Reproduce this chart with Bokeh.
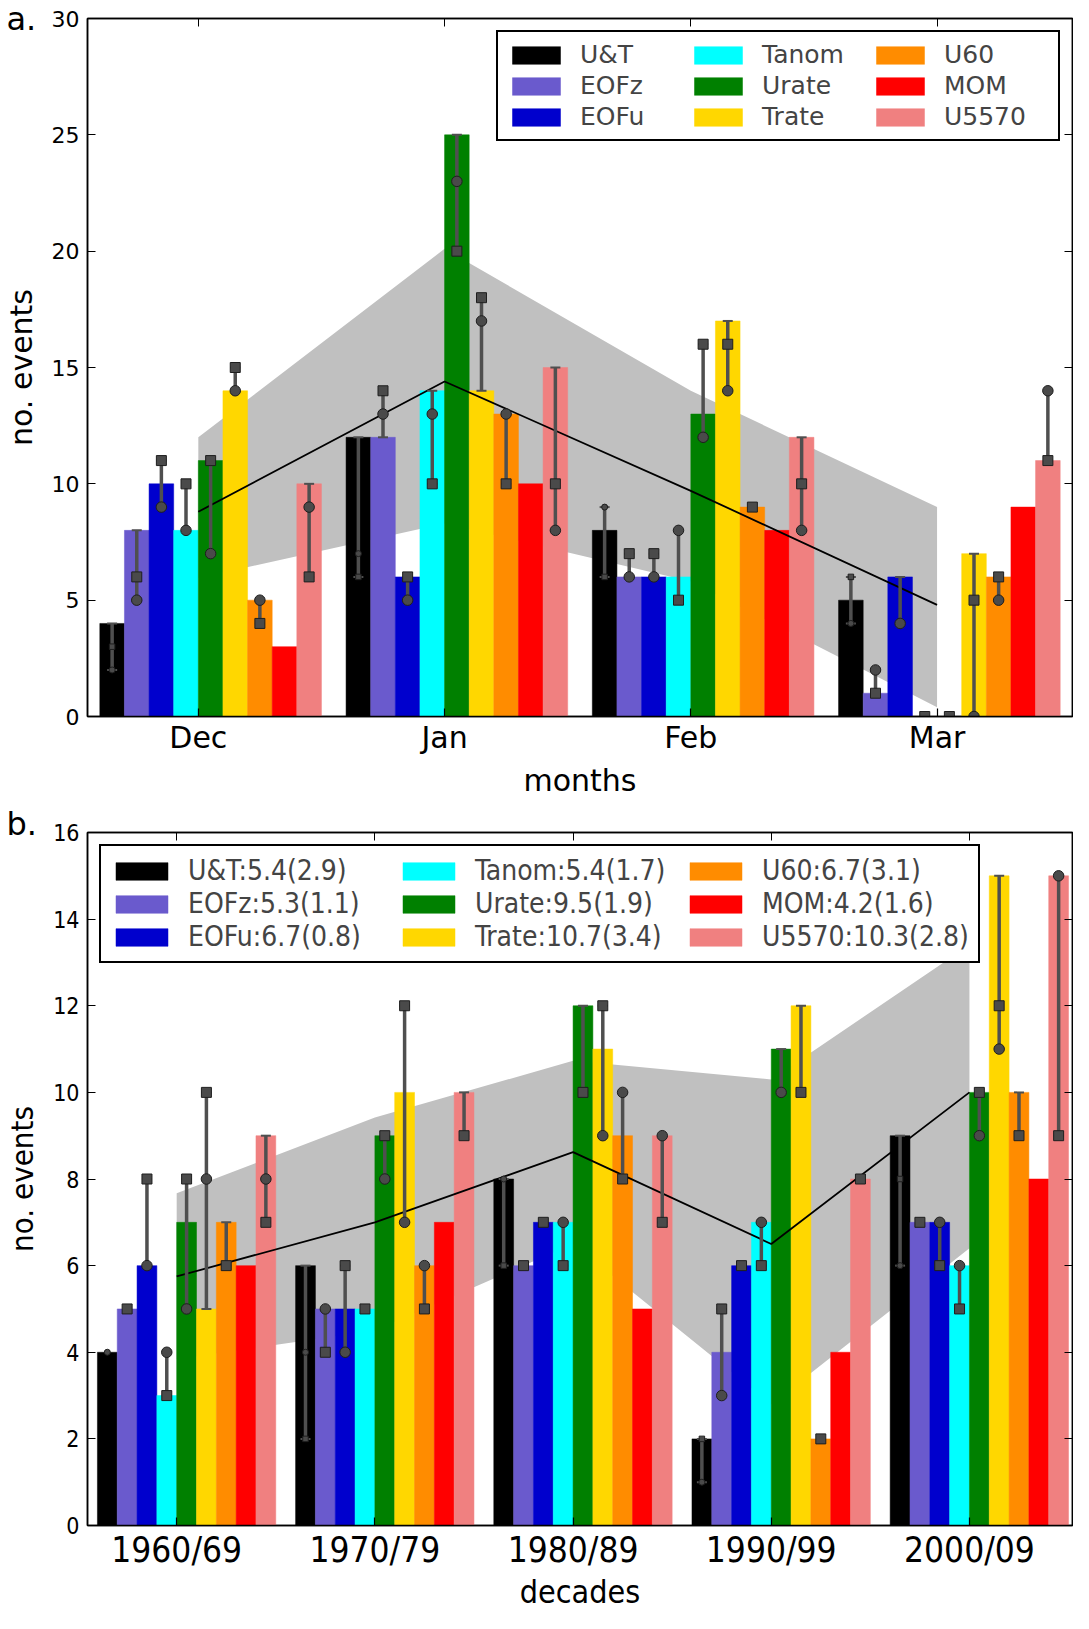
import numpy as np
from bokeh.plotting import figure
from bokeh.models import (ColumnDataSource, Range1d, LinearAxis, FixedTicker,
                          Legend, LegendItem)
from bokeh.transform import dodge
from bokeh.layouts import column
from bokeh.embed import file_html
from bokeh.resources import INLINE

N = None

series = ["U&T", "EOFz", "EOFu", "Tanom", "Urate", "Trate", "U60", "MOM", "U5570"]
colors = ["#000000", "#6a5acd", "#0000cd", "#00ffff", "#008000",
          "#ffd700", "#ff8c00", "#ff0000", "#f08080"]

# ---------------- panel a: months ----------------
months = ["Dec", "Jan", "Feb", "Mar"]
a_bar_Dec = [4, 8, 10, 8, 11, 14, 5, 3, 10]
a_circ_Dec = [2, 5, 9, 8, 7, 14, 5, N, 9]
a_sq_Dec = [3, 6, 11, 10, 11, 15, 4, N, 6]
a_bar_Jan = [12, 12, 6, 14, 25, 14, 13, 10, 15]
a_circ_Jan = [7, 13, 5, 13, 23, 17, 13, N, 8]
a_sq_Jan = [6, 14, 6, 10, 20, 18, 10, N, 10]
a_bar_Feb = [8, 6, 6, 6, 13, 17, 9, 8, 12]
a_circ_Feb = [9, 6, 6, 8, 12, 14, N, N, 8]
a_sq_Feb = [6, 7, 7, 5, 16, 16, 9, N, 10]
a_bar_Mar = [5, 1, 6, 0, 0, 7, 6, 9, 11]
a_circ_Mar = [4, 2, 4, N, N, 0, 5, N, 14]
a_sq_Mar = [6, 1, N, 0, 0, 5, 6, N, 11]
a_mean = [8.8, 14.4, 9.7, 4.8]
a_band_lo = [5.95, 8.3, 5.8, 0.4]
a_band_hi = [12.0, 20.1, 14.0, 9.0]
a_legend = series
a_yticks = [0, 5, 10, 15, 20, 25, 30]

# ---------------- panel b: decades ----------------
decades = ["1960/69", "1970/79", "1980/89", "1990/99", "2000/09"]
b_bar_60 = [4, 5, 6, 3, 7, 5, 7, 6, 9]
b_circ_60 = [4, N, 6, 4, 5, 8, N, N, 8]
b_sq_60 = [N, 5, 8, 3, 8, 10, 6, N, 7]
b_bar_70 = [6, 5, 5, 5, 9, 10, 6, 7, 10]
b_circ_70 = [4, 5, 4, N, 8, 7, 6, N, N]
b_sq_70 = [2, 4, 6, 5, 9, 12, 5, N, 9]
b_bar_80 = [8, 6, 7, 7, 12, 11, 9, 5, 9]
b_circ_80 = [8, N, N, 7, N, 9, 10, N, 9]
b_sq_80 = [6, 6, 7, 6, 10, 12, 8, N, 7]
b_bar_90 = [2, 4, 6, 7, 11, 12, 2, 4, 8]
b_circ_90 = [1, 3, N, 7, 10, N, N, N, N]
b_sq_90 = [2, 5, 6, 6, N, 10, 2, N, 8]
b_bar_00 = [9, 7, 7, 6, 10, 15, 10, 8, 15]
b_circ_00 = [6, N, 7, 6, 9, 11, N, N, 15]
b_sq_00 = [8, 7, 6, 5, 10, 12, 9, N, 9]
b_mean = [5.75, 7.0, 8.62, 6.5, 10.0]
b_band_lo = [3.84, 4.5, 6.5, 2.8, 6.4]
b_band_hi = [7.67, 9.42, 10.73, 10.3, 13.4]
b_legend = ["U&T:5.4(2.9)", "EOFz:5.3(1.1)", "EOFu:6.7(0.8)",
            "Tanom:5.4(1.7)", "Urate:9.5(1.9)", "Trate:10.7(3.4)",
            "U60:6.7(3.1)", "MOM:4.2(1.6)", "U5570:10.3(2.8)"]
b_yticks = [0, 2, 4, 6, 8, 10, 12, 14, 16]

BAR_W = 0.1
FONT_A = "DejaVu Sans"
FONT_B = "DejaVu Sans Condensed, DejaVu Sans"


def nan(v):
    return np.nan if v is None else float(v)


def make_panel(cats, bars, circs, sqs, mean, lo, hi, labels, yticks,
               x_end, height, top_b, bottom_b, xlabel, tag, tag_standoff,
               font, fs, legend_loc, glyph_w, glyph_h, label_w, leg_spacing,
               xt_standoff, xl_standoff):
    n = len(cats)
    xs = list(range(n))
    p = figure(width=1073, height=height, output_backend="svg",
               toolbar_location=None,
               x_range=Range1d(-0.45, x_end), y_range=Range1d(0, yticks[-1]),
               min_border_left=83, min_border_right=1,
               min_border_top=top_b, min_border_bottom=bottom_b)
    p.xgrid.visible = False
    p.ygrid.visible = False
    p.outline_line_color = "black"
    p.outline_line_width = 1.5
    p.outline_line_alpha = 1.0
    p.background_fill_color = "white"
    p.border_fill_color = "white"

    # panel tag ("a." / "b.") as the plot title, pulled left of the frame
    p.title.text = tag
    p.title.align = "left"
    p.title.vertical_align = "bottom"
    p.title.offset = -81
    p.title.standoff = tag_standoff
    p.title.text_font = FONT_A
    p.title.text_font_size = "32px"
    p.title.text_font_style = "normal"
    p.title.text_color = "black"

    p.varea(x=xs, y1=lo, y2=hi, fill_color="#c0c0c0", fill_alpha=1.0)

    items = []
    srcs = []
    for i, name in enumerate(series):
        off = (i - 3.5) * BAR_W
        top = [float(bars[c][i]) for c in range(n)]
        circ = [nan(circs[c][i]) for c in range(n)]
        sq = [nan(sqs[c][i]) for c in range(n)]
        elo, ehi = [], []
        for c in range(n):
            vals = [v for v in (top[c], circ[c], sq[c]) if not np.isnan(v)]
            a, b = min(vals), max(vals)
            if b > a:
                elo.append(a)
                ehi.append(b)
            else:
                elo.append(np.nan)
                ehi.append(np.nan)
        src = ColumnDataSource(dict(x=xs, top=top, circ=circ, sq=sq,
                                    elo=elo, ehi=ehi))
        r = p.vbar(x=dodge("x", off), top="top", bottom=0, width=BAR_W,
                   source=src, fill_color=colors[i], line_color=colors[i],
                   line_width=0.5)
        items.append(LegendItem(label=labels[i], renderers=[r]))
        srcs.append((src, off, i))

    p.line(xs, mean, line_color="black", line_width=1.8)

    for src, off, i in srcs:
        xd = dodge("x", off)
        p.segment(x0=xd, y0="elo", x1=xd, y1="ehi", source=src,
                  line_color="#4f4f4f", line_width=3.5)
        p.scatter(x=xd, y="ehi", source=src, marker="dash", size=10,
                  line_color="#4f4f4f", line_width=2)
        p.scatter(x=xd, y="elo", source=src, marker="dash", size=10,
                  line_color="#4f4f4f", line_width=2)
        ms = 6 if i == 0 else 10.5
        p.scatter(x=xd, y="circ", source=src, marker="circle", size=ms,
                  fill_color="#4a4a4a", line_color="#1e1e1e", line_width=1)
        p.scatter(x=xd, y="sq", source=src, marker="square", size=ms - 0.5,
                  fill_color="#4a4a4a", line_color="#1e1e1e", line_width=1)

    # axes
    xa = p.xaxis[0]
    xa.ticker = FixedTicker(ticks=xs)
    xa.major_label_overrides = {i: c for i, c in enumerate(cats)}
    xa.axis_label = xlabel
    ya = p.yaxis[0]
    ya.ticker = FixedTicker(ticks=yticks)
    ya.axis_label = "no. events"
    for ax in (xa, ya):
        ax.major_tick_in = 8
        ax.major_tick_out = 0
        ax.minor_tick_line_color = None
        ax.axis_line_color = "black"
        ax.axis_line_width = 1.5
        ax.major_tick_line_width = 1.2
        ax.major_label_text_font = font
        ax.axis_label_text_font = font
        ax.axis_label_text_font_style = "normal"
        ax.major_label_text_color = "black"
        ax.axis_label_text_color = "black"
    xa.major_label_text_font_size = fs["xtick"]
    xa.axis_label_text_font_size = fs["xlabel"]
    xa.major_label_standoff = xt_standoff
    xa.axis_label_standoff = xl_standoff
    ya.major_label_text_font_size = fs["ytick"]
    ya.axis_label_text_font_size = fs["ylabel"]
    ya.major_label_standoff = 8
    ya.axis_label_standoff = 10

    top_ax = LinearAxis(ticker=FixedTicker(ticks=xs),
                        major_label_overrides={i: "" for i in xs},
                        major_label_text_font_size="0px",
                        major_label_standoff=0, major_tick_in=8,
                        major_tick_out=0, minor_tick_line_color=None,
                        axis_line_color="black", axis_line_width=1.5)
    right_ax = LinearAxis(ticker=FixedTicker(ticks=yticks),
                          major_label_overrides={t: "" for t in yticks},
                          major_label_text_font_size="0px",
                          major_label_standoff=0, major_tick_in=8,
                          major_tick_out=0, minor_tick_line_color=None,
                          axis_line_color="black", axis_line_width=1.5)
    p.add_layout(top_ax, "above")
    p.add_layout(right_ax, "right")

    leg = Legend(items=items, location=legend_loc, orientation="vertical",
                 nrows=3, margin=12, padding=8, spacing=leg_spacing,
                 glyph_width=glyph_w, glyph_height=glyph_h, label_standoff=14,
                 label_width=label_w,
                 label_text_font=font, label_text_font_size=fs["legend"],
                 border_line_color="black", border_line_width=2,
                 border_line_alpha=1.0, background_fill_alpha=1.0)
    p.add_layout(leg)
    return p


pa = make_panel(months,
                [a_bar_Dec, a_bar_Jan, a_bar_Feb, a_bar_Mar],
                [a_circ_Dec, a_circ_Jan, a_circ_Feb, a_circ_Mar],
                [a_sq_Dec, a_sq_Jan, a_sq_Feb, a_sq_Mar],
                a_mean, a_band_lo, a_band_hi, a_legend, a_yticks,
                x_end=3.55, height=800, top_b=18, bottom_b=79,
                xlabel="months", tag="a.", tag_standoff=-39, font=FONT_A,
                fs=dict(xtick="30px", xlabel="30px", ytick="22px",
                        ylabel="30px", legend="25px"),
                legend_loc="top_right", glyph_w=60, glyph_h=22, label_w=106,
                leg_spacing=2, xt_standoff=3, xl_standoff=5)

pb = make_panel(decades,
                [b_bar_60, b_bar_70, b_bar_80, b_bar_90, b_bar_00],
                [b_circ_60, b_circ_70, b_circ_80, b_circ_90, b_circ_00],
                [b_sq_60, b_sq_70, b_sq_80, b_sq_90, b_sq_00],
                b_mean, b_band_lo, b_band_hi, b_legend, b_yticks,
                x_end=4.52, height=813, top_b=32, bottom_b=82,
                xlabel="decades", tag="b.", tag_standoff=-21, font=FONT_B,
                fs=dict(xtick="35px", xlabel="32px", ytick="23px",
                        ylabel="31px", legend="28px"),
                legend_loc="top_left", glyph_w=65, glyph_h=22, label_w=208,
                leg_spacing=0, xt_standoff=4, xl_standoff=0)

layout = column(pa, pb, spacing=0)
open("out.html", "w").write(file_html(layout, INLINE))
